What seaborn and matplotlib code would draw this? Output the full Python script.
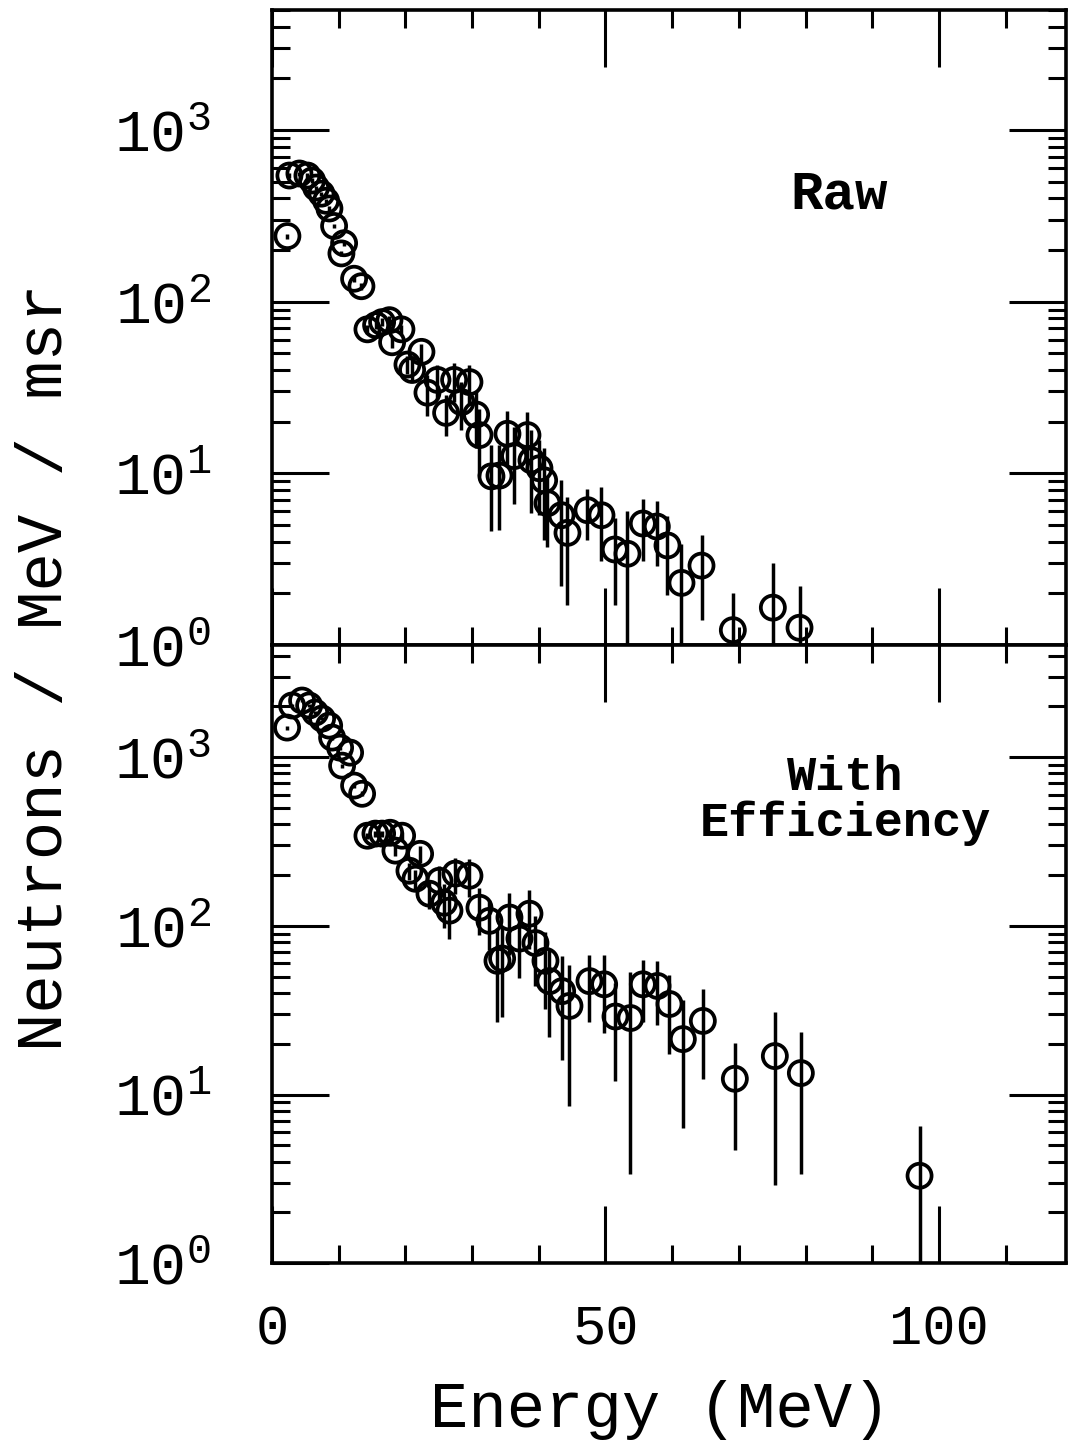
import math
import matplotlib
matplotlib.use("Agg")
import matplotlib.pyplot as plt
import seaborn as sns
import pandas as pd
from matplotlib.ticker import FixedLocator, FuncFormatter, NullFormatter

# ---------------- data ----------------
raw_energy = [2.3, 2.6, 4.1, 5.3, 6.0, 6.6, 7.4, 8.1, 8.6, 9.3,
              10.4, 10.8, 12.3, 13.4, 14.3, 15.6, 16.5, 17.6, 18.0, 19.4,
              20.3, 21.0, 22.4, 23.3, 24.8, 26.1, 27.3, 28.4, 29.6, 30.6,
              31.1, 32.9, 34.1, 35.3, 36.3, 38.3, 38.9, 40.1, 40.8, 41.3,
              43.4, 44.3, 47.3, 49.4, 51.4, 53.3, 55.6, 57.7, 59.3, 61.4,
              64.4, 69.1, 75.1, 79.1]
raw_counts = [241, 543, 558, 543, 508, 462, 426, 387, 349, 276,
              191, 219, 136, 123, 69, 73, 76, 78, 58, 69,
              43, 40, 51, 29.5, 35, 22.5, 35, 26, 34, 22,
              16.7, 9.6, 9.7, 17, 12.6, 16.7, 11.9, 10.7, 9.1, 6.7,
              5.7, 4.5, 6.1, 5.7, 3.6, 3.4, 5.1, 4.9, 3.8, 2.3,
              2.9, 1.22, 1.65, 1.26]
raw_err = [8, 15, 15, 15, 14, 13, 12, 11, 10, 9,
           7, 8, 6, 6, 4, 4, 4, 4, 4, 4,
           5, 6, 6, 8, 8, 6, 9, 8, 9, 8,
           7, 5, 5, 6, 6, 6, 6, 5, 5, 3,
           3.5, 2.8, 2.0, 2.6, 1.9, 2.6, 2.0, 2.0, 1.85, 1.6,
           1.5, 0.8, 1.35, 0.95]

eff_energy = [2.25, 3.0, 4.5, 5.56, 6.46, 7.5, 8.56, 9.0, 10.2, 10.5,
              11.7, 12.3, 13.5, 14.3, 15.5, 16.5, 17.7, 18.5, 19.5, 20.6,
              21.5, 22.2, 23.6, 25.1, 25.8, 26.6, 27.5, 29.6, 31.1, 32.6,
              33.8, 34.5, 35.6, 37.1, 38.6, 39.5, 41.0, 41.6, 43.5, 44.6,
              47.6, 49.8, 51.5, 53.75, 55.6, 57.8, 59.6, 61.6, 64.6, 69.4,
              75.4, 79.3, 97.1]
eff_counts = [1496, 2022, 2164, 2022, 1837, 1692, 1537, 1305, 1137, 890,
              1063, 678, 606, 342, 352, 352, 356, 279, 342, 212,
              190, 267, 155, 185, 137, 123, 204, 198, 128, 107,
              62, 64, 112, 84, 118, 79, 62, 47, 41, 33.5,
              47, 45, 29, 28.4, 45, 44, 34.4, 21.3, 27.3, 12.4,
              16.9, 13.4, 3.3]
eff_err = [40, 50, 55, 50, 45, 42, 40, 35, 30, 25,
           30, 20, 20, 15, 15, 15, 15, 18, 20, 25,
           25, 30, 30, 40, 40, 40, 50, 50, 40, 35,
           35, 35, 45, 35, 45, 35, 30, 25, 25, 25,
           20, 22, 17, 25, 18, 18, 17, 15, 15, 7.7,
           14, 10, 3.2]

panel_labels = ["Raw", "With\nEfficiency"]
x_major = [0, 50, 100]
x_minor = [10, 20, 30, 40, 60, 70, 80, 90, 110]
y_major = [1, 10, 100, 1000]
y_minor = [m * 10 ** d for d in range(0, 4) for m in range(2, 10)]

# ---------------- style ----------------
sns.set_theme(style="ticks")
plt.rcParams['font.family'] = ['Liberation Mono', 'DejaVu Sans']
plt.rcParams['mathtext.fontset'] = 'custom'
plt.rcParams['mathtext.rm'] = 'Liberation Mono'
plt.rcParams['mathtext.it'] = 'Liberation Mono'
plt.rcParams['mathtext.bf'] = 'Liberation Mono:bold'
plt.rcParams['axes.linewidth'] = 2.6
for key in ['text.color', 'axes.labelcolor', 'xtick.color', 'ytick.color',
            'xtick.labelcolor', 'ytick.labelcolor', 'axes.edgecolor']:
    plt.rcParams[key] = 'black'

fig = plt.figure(figsize=(10.84, 14.52), dpi=100)
ax_top = fig.add_axes([0.251, 0.5558, 0.732, 0.4373])
ax_bot = fig.add_axes([0.251, 0.1300, 0.732, 0.4256])

panels = [
    (ax_top, raw_energy, raw_counts, raw_err, 5000, panel_labels[0], (0.715, 0.709), 39),
    (ax_bot, eff_energy, eff_counts, eff_err, 4600, panel_labels[1], (0.722, 0.749), 35),
]


def sci_label(v, p):
    return r"$\mathregular{10^{%d}}$" % round(math.log10(v))


for ax, xs, ys, es, ytop, lab, pos, fs in panels:
    df = pd.DataFrame({"E": xs, "N": ys, "err": es})
    ax.set_yscale('log', nonpositive='clip')
    ax.errorbar(df["E"], df["N"], yerr=df["err"], fmt='none', ecolor='black',
                elinewidth=2.5, capsize=0, zorder=2)
    sns.scatterplot(data=df, x="E", y="N", ax=ax, marker='o', s=300,
                    facecolors='none', edgecolor='black', linewidth=2.7,
                    zorder=3, legend=False)
    ax.set_xlim(0, 119)
    ax.set_ylim(1, ytop)
    ax.set_xlabel("")
    ax.set_ylabel("")
    ax.xaxis.set_major_locator(FixedLocator(x_major))
    ax.xaxis.set_minor_locator(FixedLocator(x_minor))
    ax.yaxis.set_major_locator(FixedLocator(y_major))
    ax.yaxis.set_minor_locator(FixedLocator(y_minor))
    ax.yaxis.set_minor_formatter(NullFormatter())
    ax.yaxis.set_major_formatter(FuncFormatter(sci_label))
    ax.tick_params(which='both', direction='in', top=True, right=True,
                   color='black', width=2.2)
    ax.tick_params(which='major', length=41)
    ax.tick_params(which='minor', length=13)
    ax.tick_params(axis='y', which='major', labelsize=43, pad=44)
    ax.tick_params(axis='x', which='major', labelsize=40, pad=30)
    for sp in ax.spines.values():
        sp.set_visible(True)
        sp.set_color('black')
        sp.set_linewidth(2.6)
    ax.set_facecolor('white')
    ax.text(pos[0], pos[1], lab, transform=ax.transAxes, ha='center',
            va='center', fontsize=fs, fontweight='bold', linespacing=1.0)

ax_top.tick_params(axis='x', labelbottom=False)

fig.text(0.0415, 0.5406, "Neutrons / MeV / msr", rotation=90, ha='center',
         va='center', fontsize=46)
fig.text(0.609, 0.029, "Energy (MeV)", ha='center', va='center', fontsize=46)

fig.savefig("out.png", dpi=100, facecolor='white')
